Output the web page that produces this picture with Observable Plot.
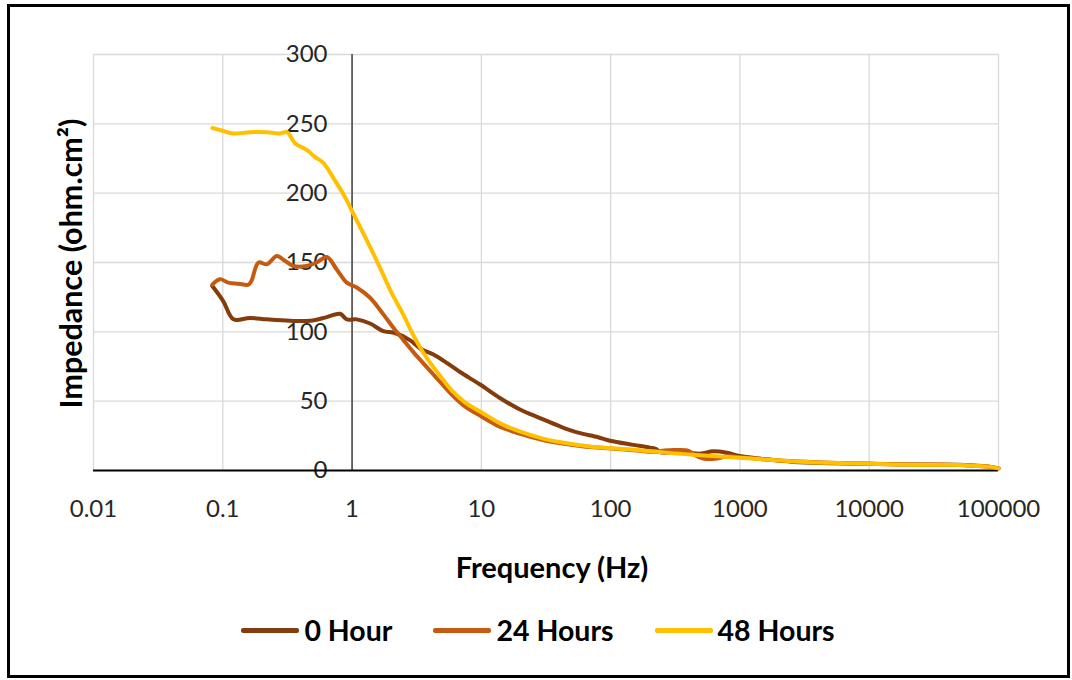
<!DOCTYPE html>
<html>
<head>
<meta charset="utf-8">
<script src="https://cdn.jsdelivr.net/npm/d3@7"></script>
<script src="https://cdn.jsdelivr.net/npm/@observablehq/plot@0.6"></script>
<style>
  html, body { margin: 0; padding: 0; background: #fff; }
  body { width: 1072px; height: 680px; position: relative; overflow: hidden; font-family: Lato, "Liberation Sans", sans-serif; }
  #frame { position: absolute; left: 7px; top: 4px; width: 1063px; height: 674px; border: 3px solid #000; box-sizing: border-box; pointer-events: none; }
  #chart { position: absolute; left: 0; top: 0; }
  #legend { position: absolute; left: 0; top: 613px; width: 1072px; display: flex; justify-content: center; align-items: center; gap: 41px; font-weight: bold; font-size: 28.5px; color: #000; padding-left: 4px; box-sizing: border-box; }
  #legend .item { display: flex; align-items: center; gap: 5px; }
  #legend .sw { display: inline-block; width: 58px; height: 5px; border-radius: 2px; }
</style>
</head>
<body>
<div id="chart"></div>
<div id="legend"></div>
<div id="frame"></div>
<script>
// ---- data ----
const seriesNames = ["0 Hour", "24 Hours", "48 Hours"];
const seriesColors = ["#843C0C", "#C55A11", "#FFC000"];

const hour0Freq = [0.083, 0.101, 0.121, 0.162, 0.219, 0.331, 0.473, 0.637, 0.807, 0.91, 1.087, 1.378, 1.746, 2.087, 2.8, 3.36, 4.26, 5.4, 6.84, 9.78, 13.9, 19.9, 28.4, 40.6, 55, 80, 99, 150, 201, 225, 240, 300, 400, 500, 621, 791, 1000, 1430, 2600, 5000, 10000, 17000, 30000, 50000, 70000, 85000, 100000];
const hour0Z    = [133, 122, 109, 110, 109, 108, 108, 110.6, 113, 109, 109, 106, 100.5, 99.5, 94, 88, 83.6, 77.6, 71, 62, 52.3, 44, 37.8, 31.8, 27.5, 24, 21.5, 18.5, 16.5, 15.5, 13.2, 13.0, 12.6, 12.2, 13.8, 12.8, 10.5, 8.6, 6.2, 5.3, 4.8, 4.5, 4.3, 4.1, 3.4, 2.8, 1.5];

const hour24Freq = [0.083, 0.095, 0.11, 0.132, 0.158, 0.167, 0.189, 0.219, 0.262, 0.294, 0.352, 0.446, 0.533, 0.637, 0.761, 0.91, 1.087, 1.378, 1.746, 2.087, 2.5, 3.0, 3.5, 4.0, 5.0, 6.0, 7.5, 10, 14, 20, 30, 40, 60, 100, 150, 230, 260, 330, 400, 450, 520, 640, 700, 800, 1000, 2600, 5000, 10000, 17000, 30000, 50000, 70000, 85000, 100000];
const hour24Z    = [134, 138, 135.5, 134.7, 134, 137, 150, 148.7, 154.7, 152, 147.5, 147.5, 150, 154, 145, 135.5, 132, 124.6, 112.6, 103, 94, 85, 78, 72, 62, 54, 46, 39, 31.5, 26.5, 22, 19.8, 17.5, 15.8, 14.6, 13.5, 14.5, 14.8, 14.2, 11, 8.6, 8.4, 9, 10.5, 9.5, 6.6, 5.6, 4.9, 4.4, 4.2, 4.0, 3.2, 2.8, 1.5];

const hour48Freq = [0.083, 0.1, 0.12, 0.163, 0.22, 0.277, 0.314, 0.362, 0.449, 0.518, 0.597, 0.739, 0.883, 1, 1.3, 1.65, 2.0, 2.5, 3.0, 3.5, 4.0, 5.0, 6.0, 7.5, 10, 14, 20, 30, 40, 60, 100, 150, 240, 435, 1000, 2600, 5000, 10000, 17000, 30000, 50000, 70000, 85000, 100000];
const hour48Z    = [247, 245, 243, 244, 244, 243, 244, 236, 231, 226, 222, 209, 197, 187, 166, 146, 129, 112, 97, 86, 78, 66, 57, 49, 42, 34, 28, 23, 20.5, 18, 16, 15, 13.3, 11.3, 9.2, 6.5, 5.5, 4.8, 4.3, 4.1, 4.0, 3.2, 2.8, 1.5];

const xTicks = [0.01, 0.1, 1, 10, 100, 1000, 10000, 100000];
const xTickLabels = ["0.01", "0.1", "1", "10", "100", "1000", "10000", "100000"];
const yTicks = [0, 50, 100, 150, 200, 250, 300];
const xTitle = "Frequency (Hz)";
const yTitle = "Impedance (ohm.cm²)";

// ---- build table ----
const freqs = [hour0Freq, hour24Freq, hour48Freq];
const zs = [hour0Z, hour24Z, hour48Z];
const rows = [];
seriesNames.forEach((s, i) => freqs[i].forEach((f, j) => rows.push({series: s, f, z: zs[i][j]})));

const chart = Plot.plot({
  width: 1072,
  height: 600,
  marginLeft: 93,
  marginRight: 74,
  marginTop: 54,
  marginBottom: 130,
  style: {fontFamily: "Lato, 'Liberation Sans', sans-serif", fontSize: "24px", color: "#404040", background: "transparent"},
  x: {type: "log", domain: [0.01, 100000]},
  y: {domain: [0, 300]},
  color: {domain: seriesNames, range: seriesColors},
  marks: [
    Plot.gridX(xTicks, {stroke: "#d9d9d9", strokeOpacity: 1, strokeWidth: 1.3}),
    Plot.gridY(yTicks.filter(d => d > 0), {stroke: "#d9d9d9", strokeOpacity: 1, strokeWidth: 1.3}),
    Plot.axisX(xTicks, {tickSize: 0, tickPadding: 29, label: null, tickFormat: (d) => xTickLabels[xTicks.indexOf(d)], fill: "#262626"}),
    Plot.axisY(yTicks, {anchor: "left", dx: 259, tickSize: 0, tickPadding: 25, label: null, fill: "#262626"}),
    Plot.ruleX([1], {stroke: "#404040", strokeWidth: 1.5}),
    Plot.ruleY([0], {stroke: "#000", strokeWidth: 1.8}),
    Plot.line(rows, {x: "f", y: "z", z: "series", stroke: "series", strokeWidth: 4, strokeLinejoin: "round", strokeLinecap: "round", curve: "catmull-rom"}),
    Plot.text([xTitle], {frameAnchor: "bottom", textAnchor: "middle", dy: 107, dx: 6, fontWeight: "bold", fontSize: 29, fill: "#000"}),
    Plot.text([yTitle], {frameAnchor: "left", textAnchor: "middle", dx: -21, dy: 1, rotate: -90, fontWeight: "bold", fontSize: 30.5, fill: "#000"})
  ]
});
document.getElementById("chart").appendChild(chart);

const legend = document.getElementById("legend");
seriesNames.forEach((s, i) => {
  const item = document.createElement("div");
  item.className = "item";
  const sw = document.createElement("span");
  sw.className = "sw";
  sw.style.background = seriesColors[i];
  const t = document.createElement("span");
  t.textContent = s;
  item.appendChild(sw);
  item.appendChild(t);
  legend.appendChild(item);
});
</script>
</body>
</html>
